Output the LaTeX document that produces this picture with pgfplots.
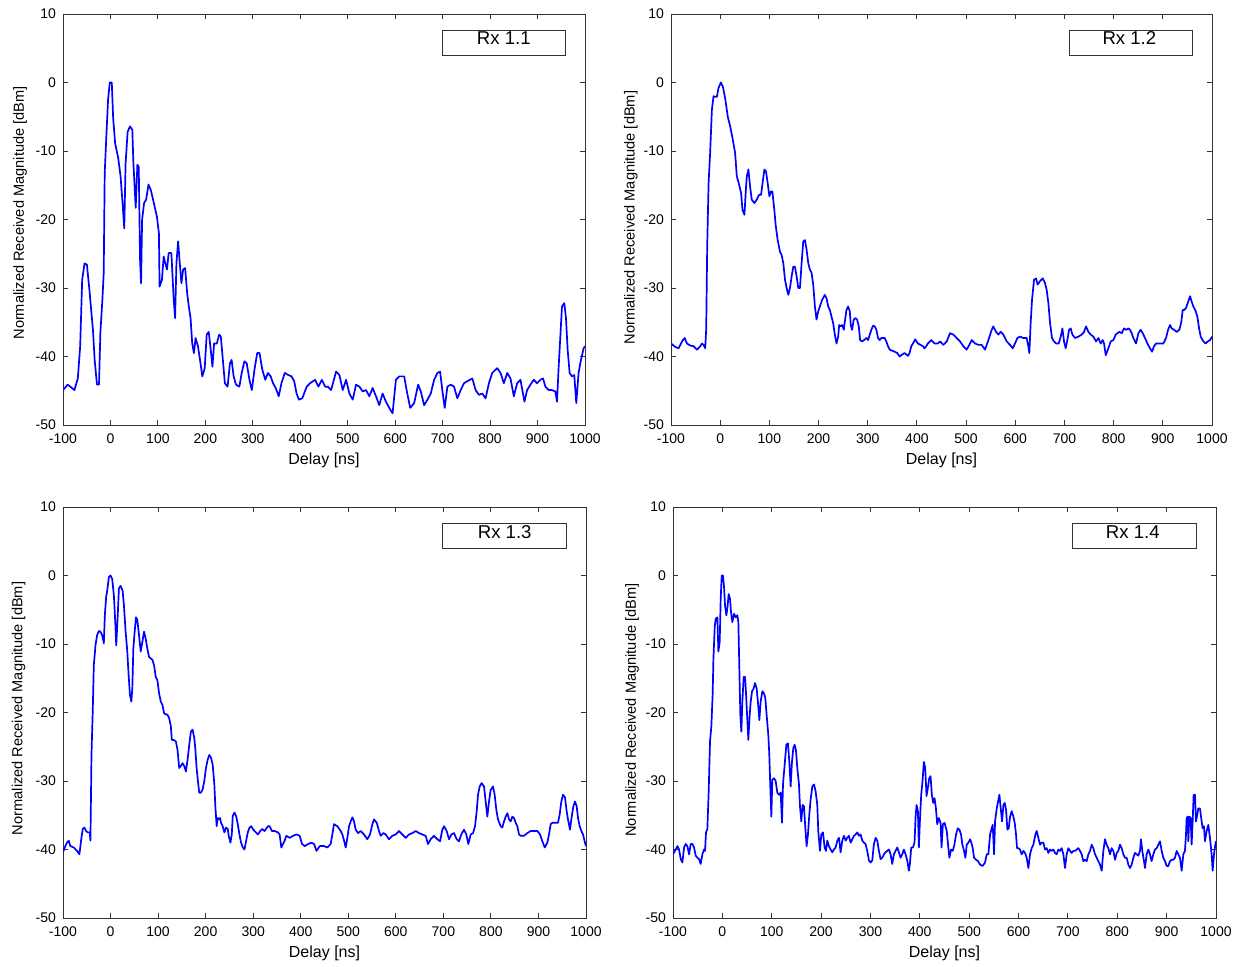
\documentclass[border=0pt]{standalone}
\usepackage{fontspec}
\setmainfont{Liberation Sans}
\usepackage{pgfplots}
\pgfplotsset{compat=1.18}
\begin{document}
\begin{tikzpicture}
\pgfplotsset{
 cir/.style={
  scale only axis, height=205.5pt,
  xmin=-100, xmax=1000, ymin=-50, ymax=10,
  xtick={-100,0,100,200,300,400,500,600,700,800,900,1000},
  ytick={-50,-40,-30,-20,-10,0,10},
  tick align=inside, xtick pos=both, ytick pos=both, major tick length=2.5pt,
  axis line style={black!80, line width=0.5pt},
  every tick/.style={black!80, line width=0.5pt},
  /pgf/number format/assume math mode=true,
  /pgf/number format/1000 sep={},
  ticklabel style={font=\fontsize{7}{8}\selectfont},
  xticklabel style={yshift=-1pt},
  xlabel={Delay [ns]},
  ylabel={Normalized Received Magnitude [dBm]},
  xlabel style={at={(axis description cs:0.5,0)}, anchor=north, yshift=-13.5pt, inner sep=0pt, font=\fontsize{8}{9}\selectfont},
  ylabel style={anchor=center, inner sep=0pt, font=\fontsize{7.3}{8}\selectfont},
  no markers,
  every axis plot post/.append style={color=blue, line width=0.85pt, line join=round, mark=none},
 }
}
\path[use as bounding box] (0,0) rectangle (621pt,-483pt);

% ---------------- Rx 1.1 ----------------
\begin{axis}[cir, width=261pt, anchor=north west, at={(31.5pt,-7pt)},
  ylabel style={at={(axis description cs:-0.082,0.516)}}]
\addplot table {
-100 -44.9
-90.1 -44.1
-75.9 -44.9
-68.8 -43.2
-63.8 -38.5
-59.6 -28.8
-54.6 -26.4
-49.6 -26.6
-44.0 -30.5
-40.4 -33.4
-36.9 -36.1
-33.3 -40.5
-28.4 -44.1
-24.1 -44.1
-21.3 -36.6
-17.0 -31.7
-14.2 -27.8
-12.1 -13.2
-8.5 -7.6
-5.0 -2.5
-1.4 0
2.8 0
5.7 -5.2
9.9 -8.9
16.3 -11.0
21.3 -13.7
25.5 -17.6
29.1 -21.3
31.9 -11.8
36.2 -7.2
41.1 -6.4
46.1 -6.9
48.2 -11.5
53.2 -18.3
56.7 -12.0
59.6 -12.3
62.4 -25.9
64.5 -29.3
66.7 -20.0
70.9 -17.6
75.2 -17.1
80.1 -14.9
85.1 -15.7
90.8 -17.4
97.9 -19.6
102.1 -22.0
103.5 -29.8
108.5 -28.8
112.1 -25.4
115.6 -26.4
119.1 -27.3
122.7 -24.9
128.4 -24.9
133.3 -31.7
136.2 -34.4
139.0 -26.4
142.6 -23.2
146.1 -26.4
149.6 -29.3
153.2 -27.3
157.4 -27.1
161.7 -30.8
165.2 -32.7
168.8 -34.4
172.3 -38.1
175.9 -39.5
179.4 -37.3
184.4 -38.5
188.7 -40.5
193.6 -42.9
198.6 -41.7
202.8 -36.8
207.1 -36.4
211.3 -39.0
214.9 -41.5
218.4 -38.1
224.1 -38.1
229.1 -36.8
232.6 -37.1
236.9 -40.5
241.1 -43.9
246.8 -44.4
251.8 -41.0
255.3 -40.5
259.6 -42.9
264.5 -44.1
271.6 -44.4
276.6 -42.4
282.3 -40.7
287.2 -41.0
292.9 -43.4
297.9 -44.9
303.5 -41.9
309.2 -39.5
314.2 -39.5
319.9 -41.9
326.2 -43.4
331.9 -42.4
337.6 -42.9
342.6 -43.9
348.2 -44.6
354.6 -45.8
360.3 -43.9
367.4 -42.4
374.5 -42.7
381.6 -42.9
387.2 -43.6
392.2 -45.4
397.2 -46.3
404.3 -46.1
413.5 -44.4
420.6 -43.9
431.2 -43.4
438.3 -44.4
445.4 -43.4
452.5 -44.4
458 -44.4
465 -44.9
475.5 -42.2
482.5 -42.7
489.5 -44.9
496.5 -43.4
503.5 -45.4
510.5 -46.3
517.5 -44.1
524.5 -44.4
531.5 -45.1
538.5 -44.9
545.5 -45.8
552.5 -44.6
559.5 -45.8
566.5 -47.1
573.5 -45.4
580.5 -46.6
587.5 -47.5
594.5 -48.3
601.5 -43.4
608.5 -42.9
619 -42.9
624.6 -45.1
631.6 -47.5
640 -46.8
648.4 -44.1
654 -45.1
661 -47.1
668 -46.3
675 -45.4
682 -43.4
689 -42.4
694.6 -42.2
700.2 -45.4
704.4 -47.5
710 -44.4
717 -44.1
724 -44.4
731 -46.1
738 -44.9
745 -43.9
752 -43.6
757.6 -43.4
762.5 -43.2
769.5 -44.9
776.5 -45.6
783.5 -45.4
790.5 -46.1
797.5 -43.9
804.5 -42.4
815 -41.7
822 -42.4
829 -43.9
836 -42.4
843 -43.2
850 -45.8
857 -43.9
864 -43.4
872.4 -46.6
878 -44.9
885 -44.1
892 -43.4
899 -43.9
906 -43.4
911.6 -43.2
916.5 -44.4
923.5 -44.9
930.5 -44.9
937.5 -45.1
941 -46.6
944.5 -41.5
948 -37.1
951.5 -32.7
956.4 -32.2
959.9 -34.4
963.4 -39.0
967.6 -42.4
972.5 -42.9
977.4 -42.7
981.6 -46.8
986.5 -42.4
990 -41.0
997 -38.8
1000 -38.5
};
\draw[black!80, line width=0.5pt] (axis cs:700.7,7.66) rectangle (axis cs:959.8,4.01);
\node[font=\fontsize{9.3}{10}\selectfont, inner sep=0pt] at (axis cs:829,6.45) {Rx 1.1};
\end{axis}

% ---------------- Rx 1.2 ----------------
\begin{axis}[cir, width=270.5pt, anchor=north west, at={(335.5pt,-7pt)},
  ylabel style={at={(axis description cs:-0.074,0.505)}}]
\addplot table {
-100 -38.1
-91.2 -38.6
-84.5 -38.8
-77.7 -37.8
-72.3 -37.3
-67.6 -38.1
-60.8 -38.4
-54.1 -38.5
-47.3 -39.0
-40.5 -38.5
-37.2 -38.1
-33.8 -38.3
-30.4 -38.8
-28.4 -35.9
-26.4 -23.9
-23.6 -14.7
-20.3 -10.1
-16.9 -4.0
-13.5 -2.0
-10.1 -2.1
-6.8 -2.1
-3.4 -0.8
1.4 0
5.4 -0.6
10.1 -2.3
15.5 -5.0
20.3 -6.4
25.0 -8.1
30.4 -10.3
33.8 -13.7
38.5 -14.9
42.6 -16.2
45.3 -18.6
49.3 -19.3
52.0 -15.9
54.1 -13.7
57.4 -12.7
60.8 -15.2
64.2 -17.1
69.6 -17.6
74.3 -17.1
79.1 -16.4
83.1 -16.4
86.5 -14.5
89.9 -12.7
93.2 -13.0
96.6 -14.7
100.0 -16.6
103.4 -15.9
106.1 -15.9
110.1 -18.6
112.8 -20.8
116.9 -23.0
121.6 -24.7
125.0 -25.2
128.4 -26.4
131.8 -28.8
135.1 -30.0
138.5 -31.0
141.9 -30.0
145.3 -28.3
148.6 -26.9
152.0 -26.9
155.4 -28.3
158.8 -30.0
162.2 -30.0
165.5 -26.4
168.9 -23.2
172.3 -23.0
175.7 -24.4
179.1 -26.4
182.4 -27.3
185.8 -27.8
189.2 -29.5
192.6 -32.7
195.9 -34.6
199.3 -33.4
202.7 -32.7
207.4 -31.7
212.8 -31.0
216.2 -31.5
219.6 -32.7
223.0 -33.2
226.4 -34.2
229.7 -35.1
233.1 -36.8
236.5 -38.1
239.9 -37.1
241.9 -35.4
245.3 -35.6
248.0 -35.4
251.4 -36.1
253.4 -34.9
256.8 -33.2
260.1 -32.7
263.5 -33.4
265.5 -35.4
268.2 -36.1
271.6 -34.6
275.0 -34.4
278.4 -34.6
281.8 -35.6
284.5 -37.6
288.5 -37.8
292.6 -37.6
297.3 -37.3
300.7 -37.6
304.1 -36.8
307.4 -36.1
310.8 -35.5
314.2 -35.6
317.6 -36.1
320.9 -37.3
324.3 -37.6
327.7 -37.3
334.5 -37.3
337.8 -37.8
341.2 -38.5
344.6 -39.0
348.0 -39.1
354.7 -39.3
360.1 -39.5
364.9 -40.0
368.2 -39.8
375.0 -39.5
381.8 -39.9
385.1 -39.5
388.5 -38.5
391.9 -38.1
396.6 -37.5
402.0 -38.1
407.4 -38.3
412.2 -38.5
415.5 -38.8
418.9 -38.5
422.3 -38.1
429.1 -37.6
435.8 -38.1
442.6 -38.1
447 -37.8
453.8 -38.3
460.6 -37.8
467.3 -36.6
474.1 -36.8
480.9 -37.3
487.7 -37.8
494.4 -38.5
501.2 -39.0
508.0 -38.1
511.4 -37.6
518.2 -38.1
524.9 -38.3
531.7 -38.3
538.5 -39.0
545.3 -37.6
552.1 -36.1
555.4 -35.6
560.9 -36.4
565.6 -36.8
570.4 -36.4
575.8 -36.8
582.6 -37.8
589.3 -38.3
594.8 -38.8
599.5 -38.1
604.2 -37.3
609.7 -37.1
616.5 -37.3
623.2 -37.3
626.6 -38.5
628.6 -39.5
631.4 -34.9
634.1 -31.7
638.1 -28.8
642.2 -28.6
645.6 -29.5
650.3 -29.0
655.8 -28.6
660.5 -29.3
663.9 -30.3
667.3 -32.2
670.7 -35.1
674.7 -37.3
678.8 -37.8
682.9 -38.1
688.3 -38.1
692.4 -37.1
695.8 -35.9
699.1 -37.8
702.5 -38.8
705.9 -37.6
709.3 -36.1
712.7 -35.9
716.1 -36.8
721.5 -37.3
728.3 -37.1
735.1 -36.8
739.8 -36.4
743.9 -35.6
748.6 -36.4
753.4 -36.8
758.8 -37.1
764.2 -37.8
769.0 -37.3
773.7 -38.1
777.8 -37.6
780.5 -38.1
783.9 -39.8
789.3 -38.8
794.0 -37.8
799.5 -37.6
804.2 -36.8
807.6 -36.6
811.7 -36.4
816.4 -36.6
821.1 -35.9
825.2 -36.1
830.0 -35.9
833.3 -36.1
836.7 -36.6
840.1 -37.3
845.5 -38.1
850.3 -36.6
855.0 -36.1
859.1 -36.6
863.8 -37.3
868.6 -38.1
874.0 -38.8
878.1 -39.3
882.1 -38.5
886.2 -38.1
891.0 -38.1
895.7 -38.1
901.1 -38.1
906.5 -37.3
910.6 -36.1
914.7 -35.4
918.1 -35.9
922.8 -36.1
928.2 -36.4
933.7 -36.1
937.7 -34.9
940.4 -33.2
943.8 -33.2
947.2 -32.9
950.6 -32.2
955.4 -31.2
958.7 -32.0
962.1 -32.7
966.9 -33.4
970.3 -34.2
973.7 -35.9
977.0 -37.1
982.5 -37.8
987.2 -38.1
991.3 -37.8
996.0 -37.6
1000 -37.1
};
\draw[black!80, line width=0.5pt] (axis cs:709.3,7.66) rectangle (axis cs:959.4,4.01);
\node[font=\fontsize{9.3}{10}\selectfont, inner sep=0pt] at (axis cs:832,6.45) {Rx 1.2};
\end{axis}

% ---------------- Rx 1.3 ----------------
\begin{axis}[cir, width=261.5pt, anchor=north west, at={(31.5pt,-253.5pt)},
  ylabel style={at={(axis description cs:-0.085,0.51)}}]
\addplot table {
-100 -40.4
-95.1 -39.5
-91.5 -39.0
-88.0 -38.7
-84.5 -39.5
-77.5 -39.7
-70.4 -40.2
-65.5 -40.7
-62.0 -38.7
-58.5 -37.0
-54.9 -36.8
-51.4 -37.3
-47.9 -37.5
-43.7 -37.5
-42.3 -38.7
-40.1 -26.2
-37.3 -19.4
-35.2 -13.1
-31.7 -10.2
-28.2 -8.7
-24.6 -8.1
-21.1 -8.2
-17.6 -8.7
-14.1 -9.9
-12.0 -5.8
-9.2 -3.1
-7.0 -2.2
-3.5 -0.2
0 0
3.5 -0.5
7.0 -2.9
9.9 -6.8
12.0 -10.2
14.8 -6.3
17.6 -1.9
21.1 -1.5
25.4 -2.2
28.2 -4.4
31.7 -8.2
35.2 -11.1
38.0 -14.5
40.8 -17.4
43.7 -18.4
45.8 -16.5
47.9 -10.7
50.7 -8.2
53.5 -6.1
56.3 -6.5
59.9 -8.7
63.4 -11.1
66.9 -9.7
70.4 -8.2
73.9 -9.2
77.5 -10.7
81.0 -11.9
84.5 -12.1
88.0 -12.3
91.5 -13.1
95.1 -14.8
98.6 -15.3
102.1 -17.2
105.6 -18.4
109.2 -18.9
112.7 -20.1
116.2 -20.3
119.7 -20.3
123.2 -20.8
126.8 -22.0
128.9 -24.0
132.4 -24.0
137.3 -24.2
140.8 -25.4
144.4 -28.1
147.9 -27.8
151.4 -27.4
154.9 -27.8
158.5 -28.6
162.0 -26.9
165.5 -24.7
169.0 -22.8
172.5 -22.5
176.1 -23.7
178.2 -25.2
181.0 -28.1
184.5 -30.5
186.6 -31.7
190.1 -31.7
193.7 -31.2
197.2 -30.0
200.7 -28.1
204.2 -26.9
207.7 -26.2
211.3 -26.6
214.8 -27.6
218.3 -30.5
220.4 -33.7
223.2 -36.6
225.4 -35.4
227.5 -35.6
230.3 -35.4
232.4 -36.1
235.9 -36.6
239.4 -37.5
243.0 -36.8
246.5 -37.0
248.6 -38.0
252.1 -39.0
255.0 -37.8
257.0 -35.1
260.6 -34.6
264.1 -35.1
267.6 -36.3
271.1 -37.8
274.6 -39.0
278.2 -39.7
281.7 -40.0
285.2 -38.7
288.7 -37.5
292.3 -36.8
295.8 -36.6
299.3 -37.0
302.8 -37.3
309.9 -37.8
314.8 -37.3
319.0 -37.0
323.9 -37.3
331.0 -36.6
334.5 -36.6
339.4 -37.3
345.1 -37.3
352.1 -37.5
355.6 -37.8
359.2 -39.7
362.7 -39.2
366.2 -38.7
369.7 -38.0
376.8 -38.3
383.8 -38.0
390.8 -37.8
397.9 -38.0
402.8 -39.2
408.5 -39.5
415.5 -39.2
422.5 -39.0
428.2 -39.2
433.1 -40.2
440.1 -39.5
449.0 -39.5
456.0 -39.7
463.0 -39.2
466.5 -37.8
470.0 -36.3
477.1 -36.6
484.1 -37.3
487.6 -37.8
491.1 -38.7
494.6 -39.7
498.1 -38.3
501.6 -36.6
505.1 -35.9
508.6 -35.3
512.1 -35.9
515.6 -37.1
520.5 -37.6
526.1 -37.3
533.1 -37.8
540.1 -38.5
545.7 -37.8
550.7 -36.3
554.2 -35.6
559.8 -36.1
564.7 -37.3
568.2 -38.0
573.8 -37.6
578.7 -37.8
585.7 -38.5
592.7 -38.0
599.7 -37.8
606.7 -37.3
613.7 -37.8
620.8 -38.3
627.8 -37.8
634.8 -37.6
641.8 -37.3
648.8 -37.6
655.8 -37.8
662.8 -38.0
667.7 -39.2
673.3 -38.5
680.3 -38.0
687.4 -38.5
693.0 -38.8
697.9 -37.1
701.4 -36.6
707.0 -37.3
711.9 -38.5
716.8 -37.8
722.4 -37.6
728.0 -38.5
732.9 -38.8
737.8 -37.8
743.4 -37.1
748.3 -37.8
752.5 -39.2
757.5 -37.8
762.4 -37.6
766.6 -36.6
770.1 -34.4
772.9 -32.0
776.4 -30.8
780.6 -30.3
785.5 -30.8
789.0 -33.0
792.5 -35.2
796.0 -33.0
799.5 -31.3
804.4 -30.8
807.9 -32.0
811.4 -34.2
814.9 -35.6
820.5 -36.6
824.0 -36.8
827.6 -35.9
831.1 -35.2
834.6 -34.7
838.1 -35.6
841.6 -35.9
845.1 -35.2
848.6 -35.4
852.1 -36.1
855.6 -36.6
859.1 -37.8
862.6 -38.0
869.6 -38.0
876.6 -37.6
883.6 -37.3
890.6 -37.3
897.7 -37.3
903.3 -37.8
908.2 -38.8
913.1 -39.7
918.7 -39.0
922.2 -37.8
925.7 -36.3
929.2 -36.1
934.1 -36.1
941.1 -36.1
944.6 -34.9
948.1 -33.0
951.6 -32.0
955.8 -32.4
959.3 -34.4
962.1 -35.6
966.3 -37.1
969.9 -35.2
973.4 -33.7
976.9 -33.0
980.4 -33.7
983.2 -35.4
986.7 -36.6
990.2 -37.3
993.7 -37.8
997.9 -39.0
1000 -39.5
};
\draw[black!80, line width=0.5pt] (axis cs:699,7.66) rectangle (axis cs:960,4.0);
\node[font=\fontsize{9.3}{10}\selectfont, inner sep=0pt] at (axis cs:829,6.4) {Rx 1.3};
\end{axis}

% ---------------- Rx 1.4 ----------------
\begin{axis}[cir, width=271.5pt, anchor=north west, at={(336.5pt,-253.5pt)},
  ylabel style={at={(axis description cs:-0.0755,0.506)}}]
\addplot table {
-100 -40.7
-94.5 -40.0
-91.1 -39.5
-87.7 -40.0
-84.3 -41.4
-81.0 -41.9
-77.6 -39.7
-74.2 -39.2
-70.9 -39.5
-67.5 -40.7
-64.1 -39.2
-60.7 -39.2
-57.4 -39.7
-54.0 -40.9
-50.6 -41.2
-47.2 -41.4
-43.9 -42.1
-40.5 -40.7
-37.1 -40.0
-35.1 -40.2
-33.1 -37.5
-30.4 -37.0
-27.7 -31.5
-25.0 -24.2
-22.3 -22.0
-19.6 -17.2
-18.2 -12.3
-15.5 -7.5
-13.5 -6.3
-10.1 -6.1
-8.1 -11.1
-5.4 -9.7
-3.4 -3.4
-1.3 0
1.3 0
3.4 -1.7
5.4 -4.4
8.1 -5.8
10.1 -4.8
12.8 -2.7
15.5 -3.4
17.5 -5.3
20.2 -6.8
23.6 -5.6
27.0 -6.1
30.4 -5.8
32.4 -6.8
34.4 -13.6
36.4 -20.4
38.5 -22.8
40.5 -18.4
43.2 -14.8
45.9 -14.8
47.9 -17.2
50.6 -21.1
52.6 -24.0
55.3 -20.4
57.4 -18.4
60.1 -16.9
63.4 -16.5
66.1 -15.7
69.5 -16.5
72.2 -18.6
74.9 -21.1
77.6 -18.4
81.0 -16.9
84.3 -17.2
87.0 -17.9
89.7 -20.4
93.1 -23.3
95.1 -26.2
97.2 -31.0
99.2 -35.2
101.2 -29.8
104.6 -29.6
108.0 -30.0
111.3 -31.7
114.7 -32.0
118.1 -31.7
120.8 -36.1
122.8 -30.5
126.2 -27.6
129.6 -24.7
132.9 -24.5
135.6 -27.2
138.3 -30.8
141.0 -27.2
143.7 -25.2
146.4 -24.7
149.1 -25.5
151.8 -28.1
155.2 -30.5
157.2 -33.7
159.9 -35.9
162.6 -33.5
165.3 -33.7
168.0 -36.8
170.7 -39.5
173.4 -37.8
176.1 -34.9
178.8 -32.7
182.2 -30.8
185.6 -30.5
188.9 -31.5
192.3 -33.5
194.3 -37.3
197.7 -40.2
200.4 -37.8
203.8 -37.5
207.2 -39.7
209.9 -40.2
212.6 -38.7
215.9 -39.5
219.3 -40.0
222.7 -40.4
226.0 -40.0
229.4 -39.7
232.8 -38.7
236.2 -38.3
239.5 -40.4
242.9 -38.7
246.3 -38.0
249.7 -38.7
253.0 -38.3
256.4 -38.0
259.8 -39.0
263.2 -38.5
266.5 -38.0
269.9 -37.8
273.3 -37.5
276.7 -38.0
280.0 -37.8
283.4 -38.7
286.8 -39.0
290.1 -39.2
293.5 -40.2
296.9 -41.6
300.3 -41.9
303.6 -41.6
307.0 -39.2
310.4 -38.3
313.8 -38.7
317.1 -40.2
320.5 -41.4
323.9 -41.2
327.3 -40.7
330.6 -40.4
334.0 -40.2
337.4 -40.0
340.8 -40.7
344.1 -42.1
347.5 -40.7
350.9 -40.2
354.3 -39.7
357.6 -40.4
361.0 -41.2
364.4 -40.7
367.7 -40.0
371.1 -40.7
374.5 -41.6
377.9 -43.1
379.9 -42.1
382.6 -39.7
386.0 -39.7
389.3 -39.0
391.4 -35.2
393.4 -33.5
396.1 -34.4
398.1 -39.7
400.1 -35.9
402.8 -32.0
405.5 -30.0
408.2 -27.2
410.9 -28.1
413.6 -32.2
416.3 -31.0
419.0 -29.6
421.7 -29.3
424.4 -32.0
427.1 -33.2
429.8 -32.5
432.5 -33.9
435.2 -36.3
438.6 -35.4
442.0 -36.1
444.0 -39.7
446.7 -36.3
450.1 -36.1
454.5 -37.3
457.2 -39.3
459.9 -41.2
463.3 -40.0
466.7 -40.2
470.0 -39.3
473.4 -37.8
476.8 -36.9
480.2 -37.1
483.5 -37.8
486.2 -39.3
489.6 -40.2
492.3 -41.2
495.0 -39.3
498.4 -39.0
501.8 -38.5
504.5 -39.0
507.2 -39.8
509.9 -41.2
513.9 -41.5
518.0 -41.7
522.0 -42.2
527.4 -42.4
532.1 -41.9
535.5 -40.7
538.9 -40.7
542.3 -37.8
545.6 -36.9
547.7 -36.4
550.4 -40.7
552.4 -35.9
555.8 -34.0
558.5 -33.0
561.2 -32.0
563.9 -34.0
566.6 -35.9
569.3 -33.5
572.0 -33.2
574.7 -34.2
577.4 -37.1
580.1 -36.9
582.8 -35.2
586.1 -34.4
589.5 -35.2
592.2 -36.1
594.9 -37.8
596.9 -39.8
599.6 -39.8
603.0 -40.0
606.4 -40.7
609.8 -40.2
613.1 -40.5
616.5 -41.2
619.9 -42.7
623.3 -40.7
626.6 -39.8
630.0 -39.3
634.1 -37.8
636.8 -37.3
640.1 -38.3
643.5 -39.3
646.9 -39.0
650.3 -39.0
653.6 -40.0
657.0 -39.8
660.4 -40.5
663.8 -40.0
667.1 -40.2
670.5 -40.0
673.9 -40.5
677.3 -40.7
680.6 -40.0
684.0 -40.2
687.4 -39.8
690.8 -40.7
694.1 -42.7
697.5 -40.7
700.9 -39.8
704.3 -40.2
707.6 -40.5
711.0 -40.2
714.4 -40.2
717.8 -40.0
721.1 -39.8
724.5 -40.2
727.9 -40.7
731.3 -41.7
734.6 -41.5
738.0 -41.7
741.4 -40.7
744.8 -40.2
748.1 -39.3
751.5 -39.8
754.9 -40.7
758.3 -41.2
761.6 -41.7
765.0 -42.2
768.4 -43.1
771.8 -40.2
775.1 -38.5
778.5 -39.3
781.9 -39.8
785.3 -40.7
788.6 -39.8
792.0 -40.2
795.4 -41.5
798.8 -40.5
802.1 -40.2
805.5 -39.3
808.9 -39.8
812.3 -40.7
815.6 -41.2
819.0 -41.2
822.4 -42.2
825.8 -42.7
829.1 -42.2
832.5 -41.2
835.9 -40.5
839.3 -40.7
842.6 -40.9
846.0 -40.2
848.0 -38.5
850.7 -40.2
854.1 -41.7
856.1 -42.7
859.5 -40.7
862.9 -40.0
866.3 -40.7
869.6 -41.7
873.0 -40.7
876.4 -40.0
879.8 -39.8
883.1 -39.3
886.5 -38.8
889.9 -40.2
893.3 -41.2
896.6 -41.7
900.0 -42.4
903.4 -42.4
906.8 -41.7
910.1 -41.5
913.5 -41.5
916.9 -41.2
920.3 -40.2
923.6 -40.7
927.0 -41.2
930.4 -43.1
933.8 -40.7
937.1 -40.2
939.2 -37.8
940.5 -35.4
942.5 -35.2
943.9 -38.8
945.9 -35.2
948.6 -35.4
950.6 -39.3
952.7 -35.9
954.7 -32.0
957.4 -32.0
959.4 -35.9
962.1 -34.9
964.1 -34.0
967.5 -34.0
970.9 -35.9
972.9 -36.9
975.6 -36.6
977.6 -38.8
981.0 -37.3
984.4 -36.4
987.8 -38.3
991.1 -40.7
993.2 -43.1
995.9 -40.7
998.6 -39.3
1000 -38.8
};
\draw[black!80, line width=0.5pt] (axis cs:708.3,7.66) rectangle (axis cs:959.5,4.0);
\node[font=\fontsize{9.3}{10}\selectfont, inner sep=0pt] at (axis cs:831.5,6.4) {Rx 1.4};
\end{axis}
\end{tikzpicture}
\end{document}
